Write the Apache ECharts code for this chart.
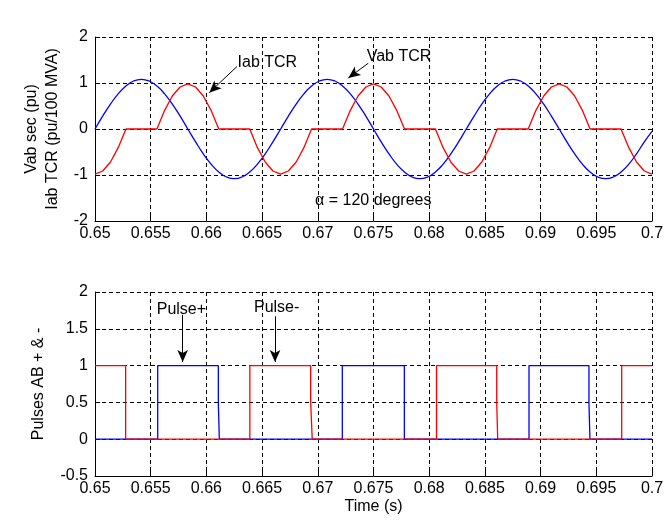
<!DOCTYPE html>
<html>
<head>
<meta charset="utf-8">
<script src="https://cdn.jsdelivr.net/npm/echarts@6/dist/echarts.min.js"></script>
<style>
html,body{margin:0;padding:0;background:#fff;}
#chart{width:668px;height:522px;}
</style>
</head>
<body>
<div id="chart"></div>
<script>
// ---- data ----
var timeS = [0.65,0.65069,0.65139,0.65208,0.65278,0.65347,0.65417,0.65486,0.65556,0.65625,0.65694,0.65764,
  0.65833,0.65903,0.65972,0.66042,0.66111,0.66181,0.6625,0.66319,0.66389,0.66458,0.66528,0.66597,
  0.66667,0.66736,0.66806,0.66875,0.66944,0.67014,0.67083,0.67153,0.67222,0.67292,0.67361,0.67431,
  0.675,0.67569,0.67639,0.67708,0.67778,0.67847,0.67917,0.67986,0.68056,0.68125,0.68194,0.68264,
  0.68333,0.68403,0.68472,0.68542,0.68611,0.68681,0.6875,0.68819,0.68889,0.68958,0.69028,0.69097,
  0.69167,0.69236,0.69306,0.69375,0.69444,0.69514,0.69583,0.69653,0.69722,0.69792,0.69861,0.69931,0.7];
var vabSec = [0,0.28,0.54,0.764,0.935,1.043,1.08,1.043,0.935,0.764,0.54,0.28,
  0,-0.28,-0.54,-0.764,-0.935,-1.043,-1.08,-1.043,-0.935,-0.764,-0.54,-0.28,
  0,0.28,0.54,0.764,0.935,1.043,1.08,1.043,0.935,0.764,0.54,0.28,
  0,-0.28,-0.54,-0.764,-0.935,-1.043,-1.08,-1.043,-0.935,-0.764,-0.54,-0.28,
  0,0.28,0.54,0.764,0.935,1.043,1.08,1.043,0.935,0.764,0.54,0.28,
  0,-0.28,-0.54,-0.764,-0.935,-1.043,-1.08,-1.043,-0.935,-0.764,-0.54,-0.28,-0.05];
var iabTcr = [-0.98,-0.913,-0.717,-0.406,0,0,0,0,0,0.406,0.717,0.913,
  0.98,0.913,0.717,0.406,0,0,0,0,0,-0.406,-0.717,-0.913,
  -0.98,-0.913,-0.717,-0.406,0,0,0,0,0,0.406,0.717,0.913,
  0.98,0.913,0.717,0.406,0,0,0,0,0,-0.406,-0.717,-0.913,
  -0.98,-0.913,-0.717,-0.406,0,0,0,0,0,0.406,0.717,0.913,
  0.98,0.913,0.717,0.406,0,0,0,0,0,-0.406,-0.717,-0.913,-0.98];

var pulsePlusT = [0.65,0.65563,0.65563,0.66107,0.66107,0.66116,0.66116,0.6722,0.6722,0.67777,0.67777,
  0.68896,0.68896,0.69434,0.69434,0.69443,0.69443,0.7];
var pulsePlusV = [0,0,1,1,0.5,0.5,0,0,1,1,0,0,1,1,0.5,0.5,0,0];
var pulseMinusT = [0.65,0.65275,0.65275,0.6639,0.6639,0.66936,0.66936,0.6695,0.6695,0.68066,0.68066,
  0.68606,0.68606,0.68615,0.68615,0.69728,0.69728,0.7];
var pulseMinusV = [1,1,0,0,1,1,0.5,0.5,0,0,1,1,0.5,0.5,0,0,1,1];

var xTicks = {min:0.65, max:0.7, interval:0.005};
var yTopTicks = {min:-2, max:2, interval:1};
var yBotTicks = {min:-0.5, max:2, interval:0.5};

var texts = {
  yTop: 'Vab sec (pu)\nIab TCR (pu/100 MVA)',
  yBot: 'Pulses AB + & -',
  xBot: 'Time (s)',
  iab: 'Iab TCR',
  vab: 'Vab TCR',
  alpha: '\u03B1 = 120 degrees',
  pPlus: 'Pulse+',
  pMinus: 'Pulse-'
};

function zip(a, b) { return a.map(function (v, i) { return [v, b[i]]; }); }

var FONT = 'Liberation Sans, Arial, sans-serif';
var FS = 16;

function xAxis(gi, withName) {
  return {
    type: 'value', gridIndex: gi, min: xTicks.min, max: xTicks.max, interval: xTicks.interval,
    name: withName ? texts.xBot : '', nameLocation: 'middle', nameGap: 23,
    nameTextStyle: {fontFamily: FONT, fontSize: FS, color: '#000'},
    axisLine: {show: true, onZero: false, lineStyle: {color: '#000', width: 1}},
    axisTick: {show: true, inside: true, length: 5, lineStyle: {color: '#000'}},
    axisLabel: {fontFamily: FONT, fontSize: FS, color: '#000', margin: 5,
      formatter: function (v) { return String(parseFloat(v.toFixed(4))); }},
    splitLine: {show: true, lineStyle: {color: '#000', type: [4, 3], width: 1}}
  };
}
function yAxis(gi, t, name, gap) {
  return {
    type: 'value', gridIndex: gi, min: t.min, max: t.max, interval: t.interval,
    name: name, nameLocation: 'middle', nameGap: gap, nameRotate: 90,
    nameTextStyle: {fontFamily: FONT, fontSize: FS, color: '#000', lineHeight: 21},
    axisLine: {show: true, onZero: false, lineStyle: {color: '#000', width: 1}},
    axisTick: {show: true, inside: true, length: 5, lineStyle: {color: '#000'}},
    axisLabel: {fontFamily: FONT, fontSize: FS, color: '#000', margin: 7},
    splitLine: {show: true, lineStyle: {color: '#000', type: [4, 3], width: 1}}
  };
}

function arrowLine(x1, y1, x2, y2) {
  return [{coord: [x1, y1]}, {coord: [x2, y2]}];
}
function label(x, y, txt) {
  return {coord: [x, y], value: txt, name: txt};
}
var markLineStyle = {
  silent: true, animation: false,
  symbol: ['none', 'arrow'], symbolSize: [8, 12],
  label: {show: false},
  lineStyle: {color: '#000', type: 'solid', width: 1}
};
var markPointStyle = {
  silent: true, animation: false, symbol: 'circle', symbolSize: 0,
  label: {show: true, position: 'right', distance: 0, formatter: '{b}',
    fontFamily: FONT, fontSize: FS, color: '#000'}
};

var chart = echarts.init(document.getElementById('chart'), null, {renderer: 'canvas'});
chart.setOption({
  animation: false,
  backgroundColor: '#fff',
  grid: [
    {left: 95, right: 16, top: 37, height: 184},
    {left: 95, right: 16, top: 292, height: 184}
  ],
  xAxis: [xAxis(0, false), xAxis(1, true)],
  yAxis: [yAxis(0, yTopTicks, texts.yTop, 31), yAxis(1, yBotTicks, texts.yBot, 46)],
  series: [
    {type: 'line', xAxisIndex: 0, yAxisIndex: 0, data: zip(timeS, vabSec), smooth: true,
      showSymbol: false, lineStyle: {color: '#0000ff', width: 1.3}, z: 3,
      markLine: Object.assign({data: [arrowLine(0.67453, 1.43, 0.67274, 1.11)]}, markLineStyle),
      markPoint: Object.assign({data: [label(0.67439, 1.58, texts.vab)]}, markPointStyle)},
    {type: 'line', xAxisIndex: 0, yAxisIndex: 0, data: zip(timeS, iabTcr),
      showSymbol: false, lineStyle: {color: '#ff0000', width: 1.3}, z: 4,
      markLine: Object.assign({data: [arrowLine(0.66275, 1.36, 0.66026, 0.79)]}, markLineStyle),
      markPoint: Object.assign({data: [label(0.6628, 1.44, texts.iab), label(0.66975, -1.55, texts.alpha)]}, markPointStyle)},
    {type: 'line', xAxisIndex: 1, yAxisIndex: 1, data: zip(pulsePlusT, pulsePlusV),
      showSymbol: false, lineStyle: {color: '#0000ff', width: 1.3}, z: 3,
      markLine: Object.assign({data: [arrowLine(0.65787, 1.69, 0.65787, 1.05)]}, markLineStyle),
      markPoint: Object.assign({data: [label(0.65554, 1.76, texts.pPlus)]}, markPointStyle)},
    {type: 'line', xAxisIndex: 1, yAxisIndex: 1, data: zip(pulseMinusT, pulseMinusV),
      showSymbol: false, lineStyle: {color: '#ff0000', width: 1.3}, z: 4,
      markLine: Object.assign({data: [arrowLine(0.66616, 1.67, 0.66616, 1.05)]}, markLineStyle),
      markPoint: Object.assign({data: [label(0.66427, 1.79, texts.pMinus)]}, markPointStyle)}
  ]
});
</script>
</body>
</html>
